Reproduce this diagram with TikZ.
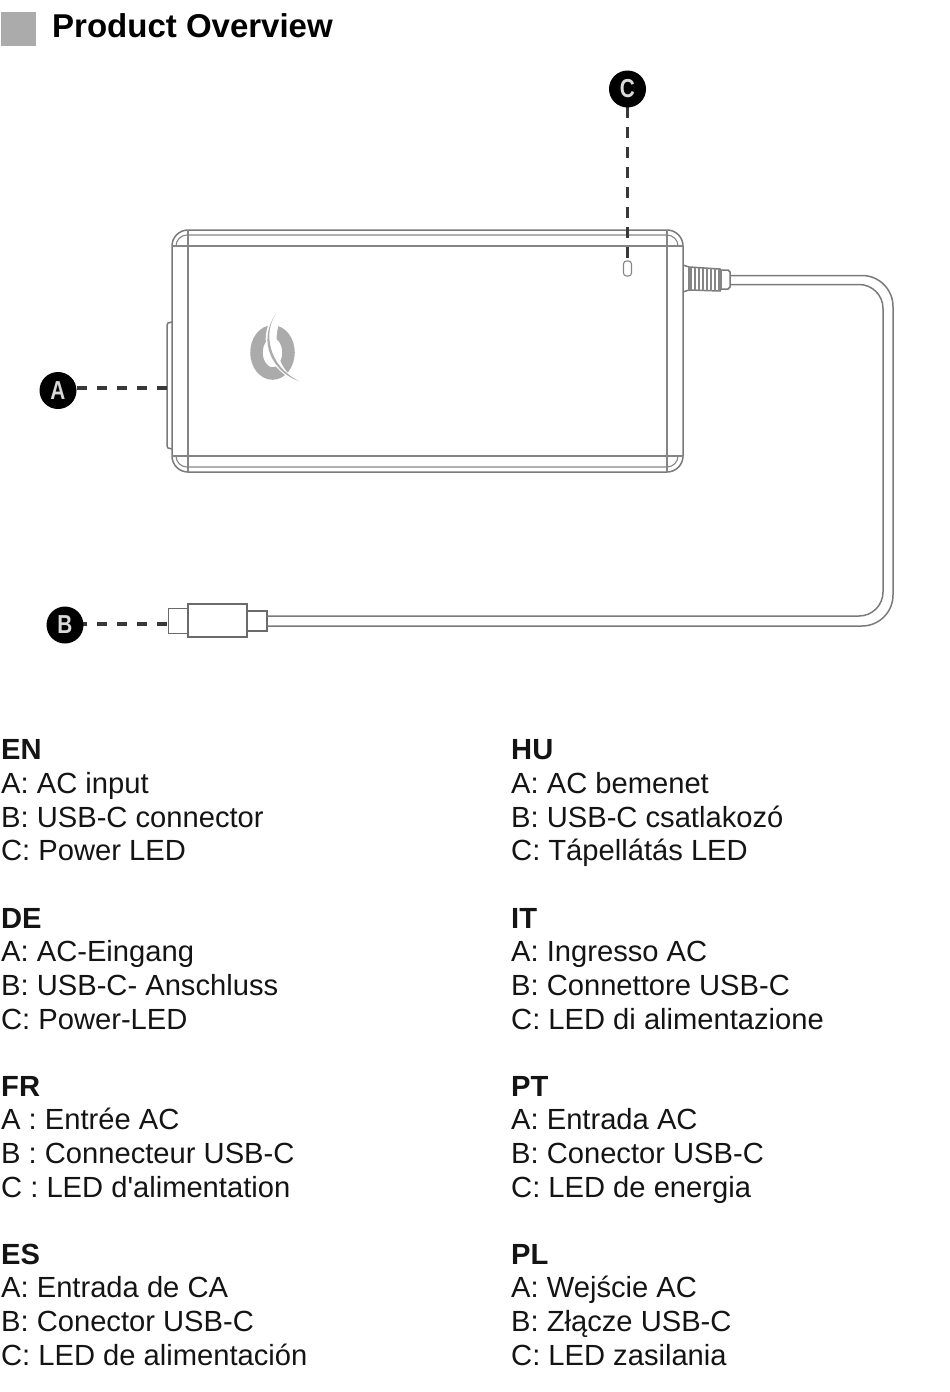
\documentclass[tikz,border=0pt]{standalone}
\usepackage{fontspec}
\setmainfont{Liberation Sans}
\newfontfamily\plainf{Liberation Sans}
\newcommand{\blk}[8]{%
 \node[hd] (#1h) at (#2,#3) {#4};
 \node[txt] (#1a) at (#2,#3+#8) {#5};
 \node[txt] (#1b) at (#2,#3+#8+34) {#6};
 \node[txt] (#1c) at (#2,#3+101) {#7};}
\newcommand{\bl}[1]{\scalebox{.8}[1]{#1}}
\begin{document}
\begin{tikzpicture}[x=1pt,y=-1pt,
  ln/.style={draw=black!52,line width=1.5pt},
  thin ln/.style={draw=black!48,line width=1.1pt},
  lead/.style={draw=black!78,line width=3.2pt,dash pattern=on 10.5pt off 9.5pt},
  badge/.style={circle,fill=black,minimum size=37pt,inner sep=0pt,text=white!85!black,font=\fontsize{26}{26}\selectfont\bfseries},
  txt/.style={anchor=base west,inner sep=0pt,font=\fontsize{29.15}{30}\selectfont,text=black!92},
  hd/.style={txt,font=\fontsize{29.15}{30}\selectfont\bfseries}]
\useasboundingbox (0,0) rectangle (950,1392);
\fill[black!33] (1,12) rectangle (36,46);
\node[anchor=base west,inner sep=0pt,font=\fontsize{33}{34}\selectfont\bfseries] (title) at (52,37) {Product Overview};
% adapter body
\draw[ln] (172,246) arc[start angle=180,end angle=270,radius=16] -- (667,230) arc[start angle=270,end angle=360,radius=16] -- (683,456) arc[start angle=0,end angle=90,radius=16] -- (188,472) arc[start angle=90,end angle=180,radius=16] -- cycle;
\draw[thin ln] (176,246) arc[start angle=180,end angle=270,radius=11] -- (667,235) arc[start angle=270,end angle=360,radius=11];
\draw[thin ln] (176,456) arc[start angle=180,end angle=90,radius=11] -- (667,467) arc[start angle=90,end angle=0,radius=11];
\draw[thin ln] (172,246) -- (683,246) (172,456) -- (683,456);
\draw[thin ln] (188,230) -- (188,472) (667,230) -- (667,472);
% plate
\draw[ln] (172,322) -- (168,323) -- (167,325) -- (167,446) -- (168,448) -- (172,449);
% logo
\draw[black!33,line width=12.5pt] (272.5,352.5) ellipse[x radius=16,y radius=21];
\fill[white] (276,313) .. controls (258,332) and (262,368) .. (300,383) .. controls (278,370) and (270,345) .. (282,314) -- cycle;
\fill[black!33] (276,314) .. controls (263,332) and (268,366) .. (299,381) .. controls (274,373) and (256,342) .. (276,314) -- cycle;
% LED
\node[draw=black!48,line width=1.1pt,rounded corners=3pt,minimum width=8pt,minimum height=15pt,inner sep=0pt] (led) at (627.5,268.5) {};
% strain relief
\draw[ln] (683,265) -- (689,267) -- (720,269) -- (721,270) -- (728,270) -- (730,272) -- (730,287) -- (728,289) -- (721,289) -- (720,291) -- (689,290) -- (683,292);
\foreach \x in {691,695,...,719} \draw[thin ln] (\x,268) -- (\x,291);
\draw[thin ln] (689,267) -- (689,290) (721,270) -- (721,289);
% usb plug
\node[draw=black!58,line width=1.7pt,minimum width=20pt,minimum height=25pt,inner sep=0pt] (tip) at (178.5,621) {};
\node[draw=black!58,line width=1.7pt,minimum width=20pt,minimum height=20pt,inner sep=0pt] (neck) at (257,621) {};
\node[draw=black!58,line width=2pt,fill=white,minimum width=59pt,minimum height=33pt,inner sep=0pt] (plug) at (217.5,620) {};
% cable
\draw[ln] (730,275.5) -- (862,275.5) arc[start angle=270,end angle=360,radius=31] -- (893,595) arc[start angle=0,end angle=90,radius=31] -- (267,626);
\draw[ln] (730,284.5) -- (859,284.5) arc[start angle=270,end angle=360,radius=24] -- (883,592) arc[start angle=0,end angle=90,radius=24] -- (267,616);
% callouts
\coordinate (ae) at (167,388);
\coordinate (as) at (70,388);
\coordinate (be) at (167,624);
\coordinate (bs) at (76,624);
\coordinate (cs) at (627.5,85);
\draw[lead,shorten <=2.5pt] (led.north) -- (cs);
\draw[lead] (ae) -- (as);
\draw[lead] (be) -- (bs);
\node[badge] (c) at (627.5,89) {\bl{C}};
\node[badge] (a) at (58,390.5) {\bl{A}};
\node[badge] (b) at (65,625) {\bl{B}};
% text
\blk{en}{1}{759}{EN}{A: AC input}{B: USB-C connector}{C: Power LED}{34}
\blk{de}{1}{928}{DE}{A: AC-Eingang}{B: USB-C- Anschluss}{C: Power-LED}{33}
\blk{fr}{1}{1096}{FR}{A : Entrée AC}{B : Connecteur USB-C}{C : LED d{\plainf '}alimentation}{33}
\blk{es}{1}{1264}{ES}{A: Entrada de CA}{B: Conector USB-C}{C: LED de alimentación}{33}
\blk{hu}{511}{759}{HU}{A: AC bemenet}{B: USB-C csatlakozó}{C: Tápellátás LED}{34}
\blk{it}{511}{928}{IT}{A: Ingresso AC}{B: Connettore USB-C}{C: LED di alimentazione}{33}
\blk{pt}{511}{1096}{PT}{A: Entrada AC}{B: Conector USB-C}{C: LED de energia}{33}
\blk{pl}{511}{1264}{PL}{A: Wejście AC}{B: Złącze USB-C}{C: LED zasilania}{33}
\end{tikzpicture}
\end{document}
